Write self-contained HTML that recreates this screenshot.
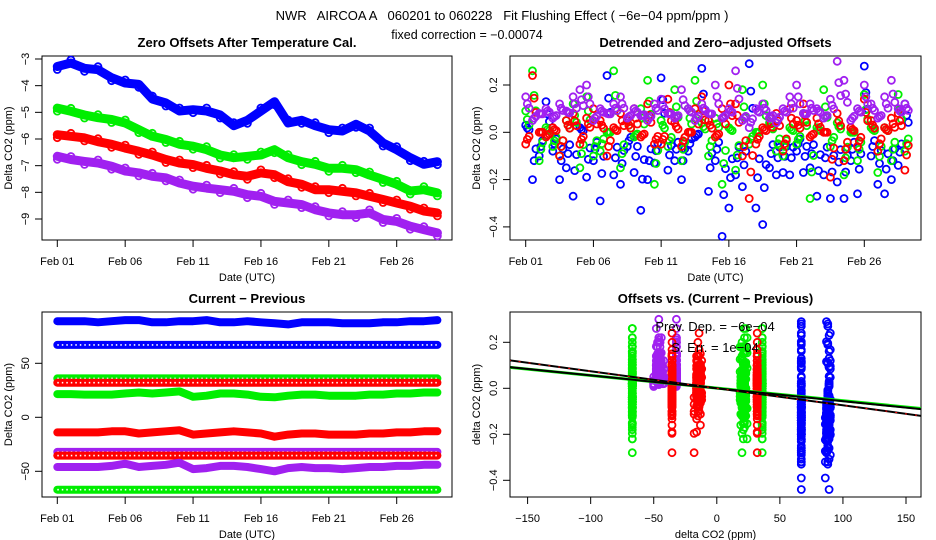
<!DOCTYPE html>
<html><head><meta charset="utf-8"><style>
html,body{margin:0;padding:0;background:#fff;}
svg{display:block;font-family:"Liberation Sans",sans-serif;}
</style></head><body>
<svg id="chart" width="936" height="540" viewBox="0 0 936 540" xmlns="http://www.w3.org/2000/svg">
<rect width="936" height="540" fill="#fff"/>
<text x="502" y="20" font-size="13" text-anchor="middle" xml:space="preserve">NWR   AIRCOA A   060201 to 060228   Fit Flushing Effect ( −6e−04 ppm/ppm )</text>
<text x="467" y="39" font-size="12.5" text-anchor="middle">fixed correction = −0.00074</text>
<g id="g1"></g>
<g id="g2"></g>
<g id="g3"></g>
<g id="g4"></g>
</svg>
<script>
// ---- data ----
const dayTicks = [0,5,10,15,20,25];
const dayTickLabels = ["Feb 01","Feb 06","Feb 11","Feb 16","Feb 21","Feb 26"];
const seriesNames = ["blue","green","red","purple"];
const seriesColors = ["#0000ff","#00ee00","#ff0000","#a020f0"];

// Panel 1: daily zero offsets (ppm), day 0..28
const zeroBlue   = [-3.28,-3.15,-3.35,-3.4,-3.7,-3.9,-3.95,-4.5,-4.65,-4.95,-4.9,-4.95,-5.1,-5.5,-5.3,-4.95,-4.6,-5.4,-5.3,-5.5,-5.65,-5.7,-5.45,-5.7,-6.15,-6.4,-6.7,-6.95,-6.85];
const zeroGreen  = [-4.84,-4.96,-5.1,-5.2,-5.27,-5.4,-5.65,-5.9,-6.02,-6.2,-6.27,-6.4,-6.6,-6.7,-6.65,-6.6,-6.4,-6.7,-6.85,-6.95,-7.1,-7.1,-7.15,-7.35,-7.52,-7.7,-7.95,-7.9,-8.02];
const zeroRed    = [-5.84,-5.9,-5.96,-6.1,-6.2,-6.34,-6.46,-6.6,-6.77,-6.9,-6.96,-7.1,-7.2,-7.34,-7.4,-7.27,-7.34,-7.6,-7.7,-7.9,-7.9,-7.96,-8.02,-8.15,-8.27,-8.4,-8.52,-8.7,-8.77];
const zeroPurple = [-6.65,-6.77,-6.84,-6.9,-7.02,-7.2,-7.27,-7.4,-7.46,-7.65,-7.77,-7.84,-7.9,-7.96,-8.09,-8.15,-8.34,-8.4,-8.46,-8.65,-8.77,-8.84,-8.84,-8.77,-9.02,-9.09,-9.27,-9.4,-9.52];
const yTicks1 = [-3,-4,-5,-6,-7,-8,-9];

// Panel 2: detrended offsets (ppm), every half day
const detPurple = [0.15,0.05,0.08,0.1,0.06,0.12,0.09,0.15,0.18,0.2,0.05,0.1,0.08,0.12,0.15,0.06,0.1,0.07,0.05,0.12,0.14,0.08,0.06,0.18,0.1,0.05,0.12,0.08,0.2,0.06,0.1,0.26,0.05,0.02,0.1,0.12,0.06,0.04,0.1,0.15,0.2,0.08,0.12,0.1,0.06,0.14,0.3,0.22,0.05,0.1,0.2,0.12,0.06,0.15,0.22,0.1,0.12];
const detRed    = [-0.05,0.24,0.0,-0.02,0.02,-0.1,0.05,0.08,-0.05,0.06,0.1,0.05,-0.1,0.02,0.08,0.05,0.1,-0.02,0.12,-0.05,-0.05,0.14,0.04,-0.06,0.0,0.1,0.15,0.05,-0.02,0.1,0.2,0.12,-0.1,-0.28,-0.05,0.02,0.06,0.08,-0.08,0.1,0.05,0.12,-0.02,0.06,0.0,-0.19,0.08,-0.12,0.02,-0.06,0.14,0.05,-0.08,0.02,0.06,0.08,-0.16];
const detGreen  = [0.09,0.26,-0.12,0.02,-0.06,-0.1,0.05,0.12,-0.15,0.15,-0.1,-0.08,0.0,0.26,-0.15,0.05,-0.02,0.1,0.22,-0.22,0.05,-0.06,0.18,-0.12,0.1,0.22,0.04,-0.1,0.06,-0.22,0.02,-0.16,0.18,-0.05,0.0,0.2,0.04,-0.08,-0.1,0.02,-0.05,0.08,-0.28,0.02,0.18,-0.06,0.04,-0.18,0.0,-0.12,0.16,0.02,-0.17,0.02,-0.12,0.16,-0.08];
const detBlue   = [0.03,-0.2,-0.1,0.13,-0.08,-0.2,-0.15,-0.27,0.02,-0.19,-0.12,-0.29,0.24,-0.18,-0.22,-0.06,-0.17,-0.33,-0.2,-0.13,0.23,-0.16,-0.12,-0.2,-0.08,-0.02,0.27,-0.25,-0.12,-0.44,-0.32,-0.18,-0.23,0.29,-0.32,-0.39,-0.15,-0.18,-0.17,-0.18,-0.08,-0.17,-0.15,-0.27,-0.18,-0.28,-0.21,-0.28,-0.12,-0.26,0.28,-0.1,-0.22,-0.26,-0.2,-0.14,0.12];
const yTicks2 = [0.2,0.0,-0.2,-0.4];
const yTickLabels2 = ["0.2","0.0","−0.2","−0.4"];

// Panel 3: current - previous (ppm), daily
const cpBlueSolid    = [89,89,89,88,89,90,90,88,88,89,89,90,88,88,89,88,87,86,88,88,88,87,87,87,88,88,89,89,90];
const cpBlueOpen     = [67,67,67,67,67,67,67,67,67,67,67,67,67,67,67,67,67,67,67,67,67,67,67,67,67,67,67,67,67];
const cpGreenOpen    = [36,36,36,36,36,36,36,36,36,36,36,36,36,36,36,36,36,36,36,36,36,36,36,36,36,36,36,36,36];
const cpRedOpen      = [32,32,32,32,32,32,32,32,32,32,32,32,32,32,32,32,32,32,32,32,32,32,32,32,32,32,32,32,32];
const cpGreenSolid   = [21.5,21.5,21,21,21,22,23,22,23,24,19,20,22,22,21,19,18.5,20,21,21,20,20,20,21,21,22,22,23,23];
const cpRedSolid     = [-14,-14,-14,-14,-13,-13,-15,-14,-13,-12,-16,-15,-14,-13,-14,-15,-18,-16,-15,-15,-16,-16,-16,-15,-15,-14,-14,-13,-13];
const cpPurpleOpen   = [-32,-32,-32,-32,-32,-32,-32,-32,-32,-32,-32,-32,-32,-32,-32,-32,-32,-32,-32,-32,-32,-32,-32,-32,-32,-32,-32,-32,-32];
const cpRedOpen2     = [-35.5,-35.5,-35.5,-35.5,-35.5,-35.5,-35.5,-35.5,-35.5,-35.5,-35.5,-35.5,-35.5,-35.5,-35.5,-35.5,-35.5,-35.5,-35.5,-35.5,-35.5,-35.5,-35.5,-35.5,-35.5,-35.5,-35.5,-35.5,-35.5];
const cpPurpleSolid  = [-46,-46,-46,-46,-45,-43,-46,-45,-44,-42,-48,-47,-45,-45,-46,-48,-50,-47,-46,-47,-47,-48,-47,-46,-46,-45,-45,-44,-44];
const cpGreenOpen2   = [-67,-67,-67,-67,-67,-67,-67,-67,-67,-67,-67,-67,-67,-67,-67,-67,-67,-67,-67,-67,-67,-67,-67,-67,-67,-67,-67,-67,-67];
const yTicks3 = [50,0,-50];
const yTickLabels3 = ["50","0","−50"];

// Panel 4
const xTicks4 = [-150,-100,-50,0,50,100,150];
const xTickLabels4 = ["−150","−100","−50","0","50","100","150"];
const fitSlopes = [-0.00074,-0.00056];
const fitIntercepts = [0.0,0.0];
const greenFitSlope = [-0.00055];
const greenFitIntercept = [0.001];

// ---- helpers ----
const NS="http://www.w3.org/2000/svg";
function mk(parent,tag,attrs,text){const e=document.createElementNS(NS,tag);for(const k in attrs)e.setAttribute(k,attrs[k]);if(text!==undefined)e.textContent=text;parent.appendChild(e);return e;}
function lin(d0,d1,r0,r1){return v=>r0+(v-d0)*(r1-r0)/(d1-d0);}

function frame(g,box,title,ytitle,xtitle,titleName){
  const b=mk(g,'rect',{x:box.x0,y:box.y0,width:box.x1-box.x0,height:box.y1-box.y0,fill:'none',stroke:'#000','stroke-width':1});
  
  
  const t=mk(g,'text',{x:(box.x0+box.x1)/2,y:box.y0-9,'font-size':13,'font-weight':'bold','text-anchor':'middle'},title);
  
  
  const yt=mk(g,'text',{x:0,y:0,'font-size':11,'text-anchor':'middle',transform:`translate(${box.x0-30},${(box.y0+box.y1)/2}) rotate(-90)`},ytitle);
  
  
  const xt=mk(g,'text',{x:(box.x0+box.x1)/2,y:box.y1+41,'font-size':11,'text-anchor':'middle'},xtitle);
  
  
}
function yAxis(g,box,sy,ticks,labels){
  ticks.forEach((v,i)=>{const y=sy(v);
    const l=mk(g,'line',{x1:box.x0-7,x2:box.x0,y1:y,y2:y,stroke:'#000'});
    
    
    const t=mk(g,'text',{x:0,y:0,'font-size':11,'text-anchor':'middle',transform:`translate(${box.x0-13},${y}) rotate(-90)`},labels[i]);
    
    
  });
}
function xAxis(g,box,sx,ticks,labels){
  ticks.forEach((v,i)=>{const x=sx(v);
    const l=mk(g,'line',{x1:x,x2:x,y1:box.y1,y2:box.y1+7,stroke:'#000'});
    
    
    const t=mk(g,'text',{x:x,y:box.y1+25,'font-size':11,'text-anchor':'middle'},labels[i]);
    
    
  });
}
function band(g,xs,ys,color,w,name){
  const pts=xs.map((x,i)=>x.toFixed(1)+','+ys[i].toFixed(1)).join(' ');
  const p=mk(g,'polyline',{points:pts,fill:'none',stroke:color,'stroke-width':w,'stroke-linejoin':'round','stroke-linecap':'round'});
  
  
  return p;
}
function ring(g,x,y,color,r,name){
  const c=mk(g,'circle',{cx:x.toFixed(1),cy:y.toFixed(1),r:r,fill:'none',stroke:color,'stroke-width':1.8});
  
  
}

// ---- Panel 1 ----
{
  const g=document.getElementById('g1');
  const box={x0:42,x1:452,y0:56,y1:240};
  const sx=lin(0,25,57.3,396.7), sy=lin(-3,-9,59,219);
  frame(g,box,"Zero Offsets After Temperature Cal.","Delta CO2 (ppm)","Date (UTC)","panel1-title");
  yAxis(g,box,sy,yTicks1,yTicks1.map(v=>String(v).replace('-','−')));
  xAxis(g,box,sx,dayTicks,dayTickLabels);
  const data=[zeroBlue,zeroGreen,zeroRed,zeroPurple];
  data.forEach((arr,s)=>{
    const xs=arr.map((v,i)=>sx(i)), ys=arr.map(v=>sy(v));
    band(g,xs,ys,seriesColors[s],9,'zero-offset-band-'+seriesNames[s]);
    arr.forEach((v,i)=>ring(g,sx(i),sy(v)+((i%2)?-3:3),seriesColors[s],3.5,'zero-offset-point-'+seriesNames[s]));
  });
}
// ---- Panel 2 ----
{
  const g=document.getElementById('g2');
  const box={x0:510,x1:921,y0:56,y1:240};
  const sx=lin(0,25,525.7,864.3), sy=lin(0,0.2,132.3,85);
  frame(g,box,"Detrended and Zero−adjusted Offsets","Delta CO2 (ppm)","Date (UTC)","panel2-title");
  yAxis(g,box,sy,yTicks2,yTickLabels2);
  xAxis(g,box,sx,dayTicks,dayTickLabels);
  const data=[detBlue,detGreen,detRed,detPurple];
  data.forEach((arr,s)=>{
    arr.forEach((v,i)=>{
      ring(g,sx(i*0.5),sy(v),seriesColors[s],3.5,'detrended-point-'+seriesNames[s]);
      ring(g,sx(i*0.5+0.25),sy(v*0.35+(s===3?0.05:0.0)),seriesColors[s],3.5,'detrended-core-point-'+seriesNames[s]);
      ring(g,sx(i*0.5+0.12),sy(v*0.6+(s===3?0.03:0.0)),seriesColors[s],3.5,'detrended-core-point-'+seriesNames[s]);
    });
  });
}
// ---- Panel 3 ----
const p3Series=[
  {arr:cpBlueSolid,c:0,open:false},{arr:cpBlueOpen,c:0,open:true},
  {arr:cpGreenOpen,c:1,open:true},{arr:cpRedOpen,c:2,open:true},
  {arr:cpGreenSolid,c:1,open:false},{arr:cpRedSolid,c:2,open:false},
  {arr:cpPurpleOpen,c:3,open:true},{arr:cpRedOpen2,c:2,open:true},
  {arr:cpPurpleSolid,c:3,open:false},{arr:cpGreenOpen2,c:1,open:true}];
{
  const g=document.getElementById('g3');
  const box={x0:42,x1:452,y0:312,y1:497};
  const sx=lin(0,25,57.3,396.7), sy=lin(0,50,417.3,363.3);
  frame(g,box,"Current − Previous","Delta CO2 (ppm)","Date (UTC)","panel3-title");
  yAxis(g,box,sy,yTicks3,yTickLabels3);
  xAxis(g,box,sx,dayTicks,dayTickLabels);
  p3Series.forEach((s,k)=>{
    const xs=s.arr.map((v,i)=>sx(i)), ys=s.arr.map(v=>sy(v));
    const nm='difference-series-'+seriesNames[s.c]+'-'+k;
    band(g,xs,ys,seriesColors[s.c],8,nm);
    if(s.open){
      const p=band(g,xs,ys,'#fff',1.6,nm+'-hollow');
      p.setAttribute('stroke-dasharray','1.5 3');
      p.setAttribute('stroke-linecap','butt');
    }
  });
}
// ---- Panel 4 ----
{
  const g=document.getElementById('g4');
  const box={x0:510,x1:921,y0:312,y1:497};
  const sx=lin(0,150,716.8,906), sy=lin(0,0.2,388.3,342.3);
  frame(g,box,"Offsets vs. (Current − Previous)","delta CO2 (ppm)","delta CO2 (ppm)","panel4-title");
  yAxis(g,box,sy,yTicks2,yTickLabels2);
  xAxis(g,box,sx,xTicks4,xTickLabels4);
  const detByColor=[detBlue,detGreen,detRed,detPurple];
  const clip=mk(g,'clipPath',{id:'clip4'});
  mk(clip,'rect',{x:box.x0,y:box.y0,width:box.x1-box.x0,height:box.y1-box.y0});
  const pts=mk(g,'g',{'clip-path':'url(#clip4)'});
  
  
  p3Series.forEach((s,k)=>{
    const yv=detByColor[s.c];
    yv.forEach((v,i)=>{
      const xval=s.arr[Math.min(28,Math.floor(i/2))];
      ring(pts,sx(xval),sy(v),seriesColors[s.c],3.5,'scatter-point-'+seriesNames[s.c]);
      ring(pts,sx(xval),sy(v*0.4),seriesColors[s.c],3.5,'scatter-core-point-'+seriesNames[s.c]);
      ring(pts,sx(xval),sy(v*0.7),seriesColors[s.c],3.5,'scatter-core-point-'+seriesNames[s.c]);
    });
  });
  const lines=mk(g,'g',{'clip-path':'url(#clip4)'});
  const xa=-165,xb=165;
  greenFitSlope.forEach((m,i)=>{
    const l=mk(lines,'line',{x1:sx(xa),x2:sx(xb),y1:sy(greenFitIntercept[i]+m*xa),y2:sy(greenFitIntercept[i]+m*xb),stroke:'#00ee00','stroke-width':3});
    
    
  });
  fitSlopes.forEach((m,i)=>{
    const l=mk(lines,'line',{x1:sx(xa),x2:sx(xb),y1:sy(fitIntercepts[i]+m*xa),y2:sy(fitIntercepts[i]+m*xb),stroke:'#000','stroke-width':2});
    
    
  });
  const d=mk(lines,'line',{x1:sx(xa),x2:sx(xb),y1:sy(fitIntercepts[0]+fitSlopes[0]*xa),y2:sy(fitIntercepts[0]+fitSlopes[0]*xb),stroke:'#ff0000','stroke-width':1,'stroke-dasharray':'2 8'});
  
  
  const t1=mk(g,'text',{x:715,y:331,'font-size':13,'text-anchor':'middle'},"Prev. Dep. =  −6e−04");
  
  
  const t2=mk(g,'text',{x:715,y:352,'font-size':13,'text-anchor':'middle'},"S. Err. =  1e−04");
  
  
}
</script>
</body></html>
